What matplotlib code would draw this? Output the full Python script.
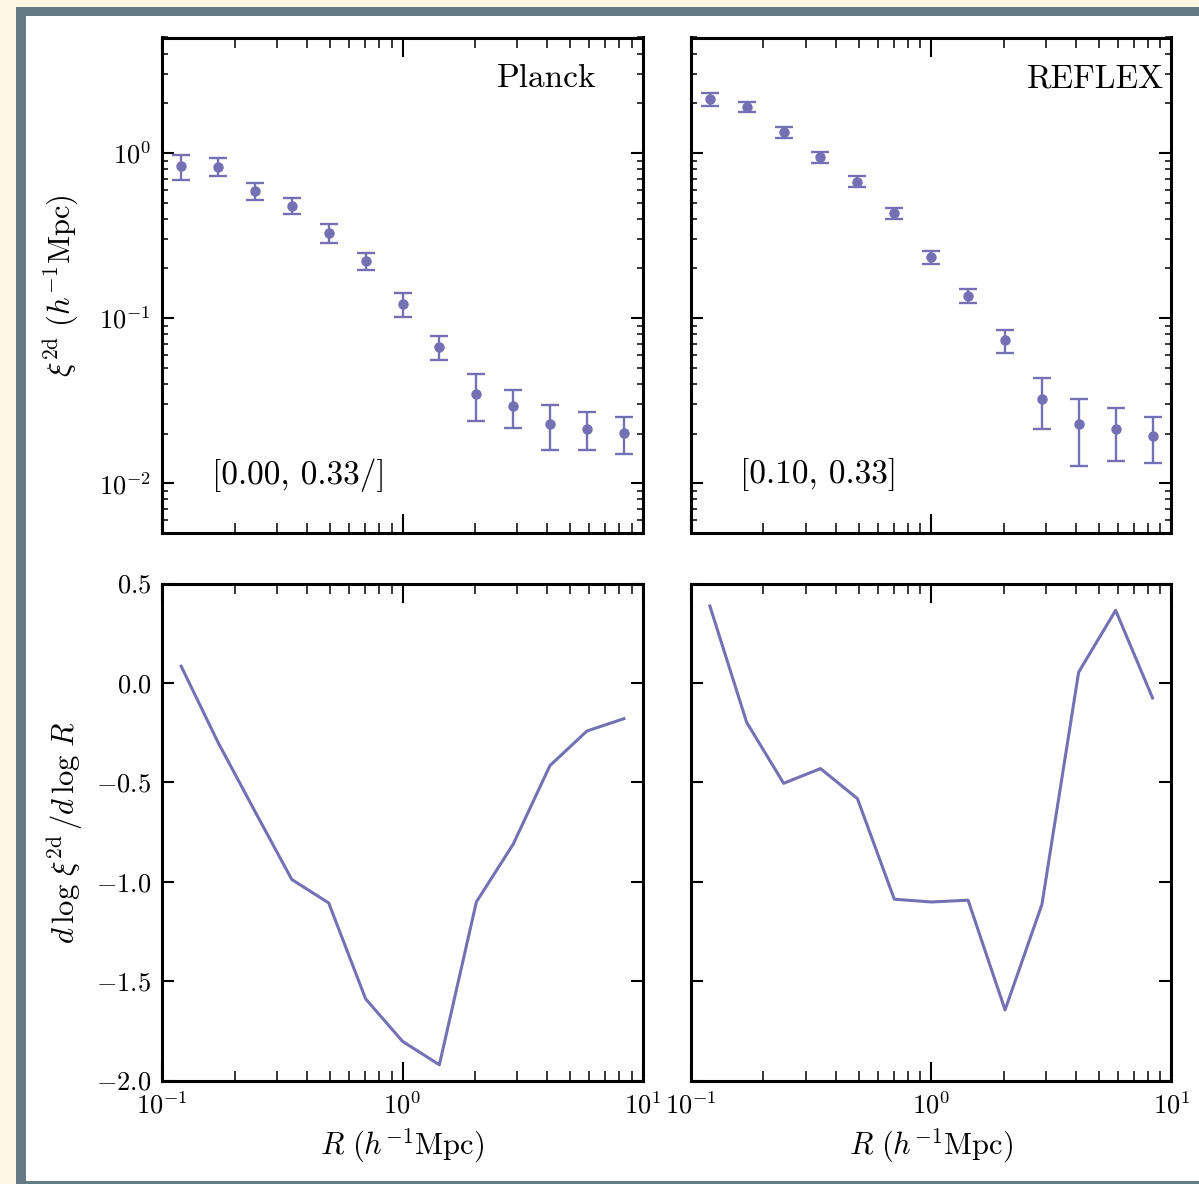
import numpy as np
import matplotlib
matplotlib.use("Agg")
import matplotlib.pyplot as plt
from matplotlib.patches import Rectangle
from matplotlib.ticker import FuncFormatter, LogLocator, MultipleLocator, NullFormatter

plt.rcParams['font.family'] = 'serif'
plt.rcParams['font.serif'] = ['cmr10', 'DejaVu Serif']
plt.rcParams['mathtext.fontset'] = 'cm'
plt.rcParams['axes.formatter.use_mathtext'] = True

#___Data___#
R = [0.1198, 0.1706, 0.243, 0.346, 0.493, 0.702, 1.0, 1.424, 2.03, 2.89, 4.11, 5.86, 8.35]

xi_planck = [0.83, 0.826, 0.589, 0.48, 0.328, 0.222, 0.121, 0.067, 0.0348, 0.0292, 0.0228, 0.0214, 0.0202]
err_planck = [0.14, 0.10, 0.072, 0.052, 0.043, 0.026, 0.020, 0.011, 0.011, 0.0076, 0.007, 0.0056, 0.0051]

xi_reflex = [2.12, 1.90, 1.34, 0.94, 0.671, 0.430, 0.234, 0.1364, 0.0732, 0.0323, 0.0227, 0.0212, 0.0192]
err_reflex = [0.19, 0.14, 0.10, 0.074, 0.05, 0.032, 0.022, 0.0135, 0.012, 0.011, 0.0099, 0.0075, 0.006]

slope_planck = [0.084, -0.299, -0.646, -0.989, -1.107, -1.589, -1.803, -1.921, -1.102, -0.811, -0.416, -0.242, -0.180]
slope_reflex = [0.387, -0.199, -0.505, -0.431, -0.582, -1.088, -1.102, -1.093, -1.645, -1.115, 0.054, 0.365, -0.076]

names = ['Planck', 'REFLEX']
ranges = ['[0.00, 0.33/]', '[0.10, 0.33]']

col = '#7570b3'

#___Figure_Setup___#
fig = plt.figure(figsize=(11.99, 11.84), dpi=100, facecolor='#fdf6e3')
fig.patches.append(Rectangle((16/1199, 0), 1, 1 - 6.7/1184, transform=fig.transFigure,
                             facecolor='#657b83', edgecolor='none', zorder=-10))
fig.patches.append(Rectangle((26/1199, 3/1184), 1, 1 - 16/1184 - 3/1184, transform=fig.transFigure,
                             facecolor='white', edgecolor='none', zorder=-9))

W, H = 480.4/1199, 495.5/1184
lefts = [162.3/1199, 691/1199]
bots = [1 - 533/1184, 1 - 1080.5/1184]

ax_tl = fig.add_axes([lefts[0], bots[0], W, H])
ax_tr = fig.add_axes([lefts[1], bots[0], W, H])
ax_bl = fig.add_axes([lefts[0], bots[1], W, 497/1184])
ax_br = fig.add_axes([lefts[1], bots[1], W, 497/1184])

log_fmt = FuncFormatter(lambda v, p: r'$10^{%d}$' % int(round(np.log10(v))))
lin_fmt = FuncFormatter(lambda v, p: r'$%.1f$' % v)

def style(ax):
    for s in ax.spines.values():
        s.set_linewidth(2.2)
    ax.set_xscale('log')
    ax.set_xlim(0.1, 10)
    ax.xaxis.set_major_locator(LogLocator(base=10, numticks=5))
    ax.xaxis.set_minor_locator(LogLocator(base=10, subs=np.arange(2, 10), numticks=20))
    ax.xaxis.set_major_formatter(log_fmt)
    ax.xaxis.set_minor_formatter(NullFormatter())
    ax.tick_params(which='both', direction='in', top=True, right=True, labelsize=19)
    ax.tick_params(axis='x', which='major', length=14, width=1.5, pad=8)
    ax.tick_params(axis='x', which='minor', length=7, width=1.1)
    ax.tick_params(axis='y', which='major', length=8.5, width=1.5, pad=8)
    ax.tick_params(axis='y', which='minor', length=4, width=1.1)

#___Top_Row___#
for ax, xi, er, nm, rg in [(ax_tl, xi_planck, err_planck, names[0], ranges[0]),
                           (ax_tr, xi_reflex, err_reflex, names[1], ranges[1])]:
    style(ax)
    ax.errorbar(R, xi, yerr=er, fmt='o', color=col, ms=6.5, elinewidth=1.7,
                capsize=6.5, capthick=1.7)
    ax.set_yscale('log')
    ax.set_ylim(0.005, 5)
    ax.yaxis.set_major_locator(LogLocator(base=10, numticks=6))
    ax.yaxis.set_minor_locator(LogLocator(base=10, subs=np.arange(2, 10), numticks=20))
    ax.yaxis.set_major_formatter(log_fmt)
    ax.yaxis.set_minor_formatter(NullFormatter())
    ax.tick_params(labelbottom=False)
    ax.text(0.903 if ax is ax_tl else 0.985, 0.917, nm, transform=ax.transAxes,
            ha='right', va='center', fontsize=24)
    ax.text(0.103, 0.117, rg, transform=ax.transAxes, ha='left', va='center', fontsize=24)

ax_tl.set_ylabel(r'$\xi^{\rm 2d}\ (h^{-1}{\rm Mpc})$', fontsize=22, labelpad=14)
ax_tr.tick_params(labelleft=False)

#___Bottom_Row___#
for ax, sl in [(ax_bl, slope_planck), (ax_br, slope_reflex)]:
    style(ax)
    ax.plot(R, sl, color=col, lw=2.2)
    ax.set_ylim(-2.0, 0.5)
    ax.yaxis.set_major_locator(MultipleLocator(0.5))
    ax.yaxis.set_major_formatter(lin_fmt)
    ax.set_xlabel(r'$R\ (h^{-1}{\rm Mpc})$', fontsize=22, labelpad=6)

ax_bl.set_ylabel(r'$d\,\log\,\xi^{\rm 2d}\,/d\,\log\,R$', fontsize=22, labelpad=8)
ax_br.tick_params(labelleft=False)

fig.savefig('out.png', dpi=100, facecolor=fig.get_facecolor())
